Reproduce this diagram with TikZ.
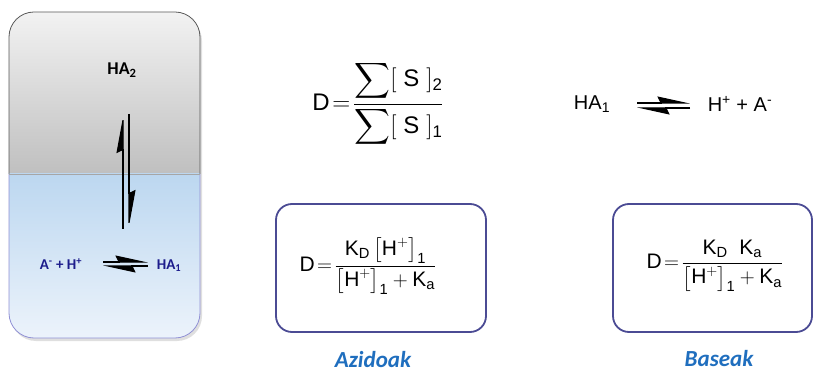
\documentclass[tikz,border=0pt]{standalone}
\usepackage{amsmath}
\usepackage[no-math]{fontspec}
\setmainfont{Liberation Sans}
\newfontfamily\calib{Carlito}
\usepackage{xcolor}
\usetikzlibrary{arrows.meta,positioning,calc}

\definecolor{boxline}{RGB}{75,75,148}
\definecolor{ionblue}{RGB}{28,28,140}
\definecolor{tagblue}{RGB}{31,110,190}
\newcommand{\tx}[1]{\text{#1}}
\newcommand{\eqsign}{\mkern2mu{=}\mkern2mu}

\begin{document}
\begin{tikzpicture}[x=1pt, y=-1pt,
    harp/.style={line width=1.1pt, -{Stealth[left, length=#1, width=13pt, inset=3pt]}},
    harp/.default=28pt,
    roundbox/.style={draw=boxline, line width=1.8pt, rounded corners=16pt},
    eqn/.style={font=\fontsize{#1}{#1}\selectfont},
    tag/.style={font=\calib\bfseries\itshape\fontsize{23}{26}\selectfont, text=tagblue, inner sep=1pt}]
  \useasboundingbox (0,0) rectangle (814,374);
  % two-phase vessel
  \fill[gray!25, rounded corners=25pt] (11,16) rectangle (202,341);
  \begin{scope}
    \clip[rounded corners=25pt] (9,12) rectangle (200,338);
    \shade[top color=gray!10, bottom color=gray!50] (9,12) rectangle (200,174);
    \shade[top color={rgb,255:red,188;green,215;blue,240}, bottom color={rgb,255:red,236;green,243;blue,251}] (9,174) rectangle (200,338);
  \end{scope}
  \draw[gray!70!black, line width=0.8pt, rounded corners=25pt] (9,174) -- (9,12) -- (200,12) -- (200,174);
  \draw[gray!55!blue!60, line width=0.8pt, rounded corners=25pt] (9,174) -- (9,338) -- (200,338) -- (200,174);
  \draw[gray!70, line width=0.8pt] (9,174) -- (200,174);
  \node[font=\calib\bfseries\fontsize{18}{20}\selectfont] (ha2) at (122,70) {HA\textsubscript{2}};
  \coordinate (vtop) at (126,114);
  \coordinate (vbot) at (126,229);
  \draw[harp=36pt] ([xshift=-3]vbot) -- ([xshift=-3]vtop);
  \draw[harp=36pt] ([xshift=3]vtop) -- ([xshift=3]vbot);
  \node[font=\calib\bfseries\fontsize{15}{17}\selectfont, text=ionblue] (ions1) at (61,264) {A\textsuperscript{-} + H\textsuperscript{+}};
  \node[font=\calib\bfseries\fontsize{15}{17}\selectfont, text=ionblue] (ha1) at (169,266) {HA\textsubscript{1}};
  \coordinate (hl) at (103,264);
  \coordinate (hr) at (148,264);
  \draw[harp=30pt] ([yshift=2]hl) -- ([yshift=2]hr);
  \draw[harp=30pt] ([yshift=-2]hr) -- ([yshift=-2]hl);
  % distribution ratio
  \node[eqn=24] (dratio) at (378,104) {$\tx{D}\eqsign\dfrac{\displaystyle\sum[\;\tx{S}\;]_{\tx{2}}}{\displaystyle\sum[\;\tx{S}\;]_{\tx{1}}}$};
  % dissociation
  \node[font=\fontsize{20}{24}\selectfont] (ha1r) at (592,104) {HA\textsubscript{1}};
  \node[font=\fontsize{20}{24}\selectfont] (ionsr) at (740,104) {H\textsuperscript{+} + A\textsuperscript{-}};
  \coordinate (rl) at (637,105.5);
  \coordinate (rr) at (690,105.5);
  \draw[harp=30pt] ([yshift=2.5]rl) -- ([yshift=2.5]rr);
  \draw[harp=30pt] ([yshift=-2.5]rr) -- ([yshift=-2.5]rl);
  % boxed results
  \node[roundbox, minimum width=210, minimum height=128] (acidbox) at (381,268) {};
  \node[roundbox, minimum width=199, minimum height=128] (basebox) at (712.5,268) {};
  \node[eqn=21] (acideq) at (368,266) {$\tx{D}\eqsign\dfrac{\tx{K}_{\tx{D}}\,\bigl[\tx{H}^{+}\bigr]_{\tx{1}}}{\bigl[\tx{H}^{+}\bigr]_{\tx{1}}+\tx{K}_{\tx{a}}}$};
  \node[eqn=21] (baseeq) at (715,266) {$\tx{D}\eqsign\dfrac{\tx{K}_{\tx{D}}\;\;\tx{K}_{\tx{a}}}{\bigl[\tx{H}^{+}\bigr]_{\tx{1}}+\tx{K}_{\tx{a}}}$};
  \node[tag] (acid) at (373,360) {Azidoak};
  \node[tag] (base) at (719,359) {Baseak};
\end{tikzpicture}
\end{document}
